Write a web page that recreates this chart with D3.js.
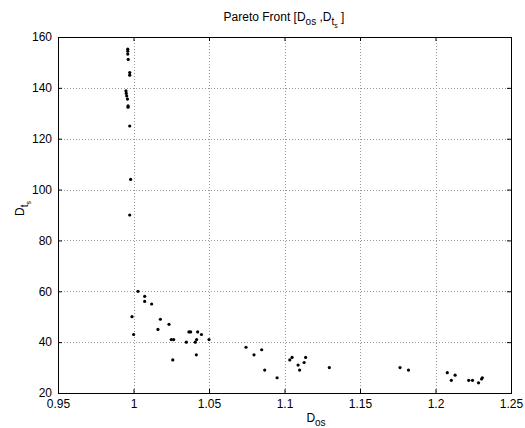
<!DOCTYPE html>
<html>
<head>
<meta charset="utf-8">
<script src="https://cdn.jsdelivr.net/npm/d3@7"></script>
<style>
  body { margin: 0; background: #fff; }
  text { font-family: "Liberation Sans", Arial, sans-serif; fill: #000; }
</style>
</head>
<body>
<script>
// Pareto front points (D_os, D_ts)
var dOs = [0.9962, 0.9962, 0.9962, 0.9965, 0.9975, 0.9975, 0.9950, 0.9952, 0.9955, 0.9960,
           0.9964, 0.9964, 0.9975, 0.9981, 0.9975,
           1.003, 1.0074, 1.0074, 1.012, 0.999, 1.0178, 1.0235, 1.0162, 1.0001, 1.025,
           1.0266, 1.026, 1.035, 1.0367, 1.0378, 1.0409, 1.0418, 1.0416, 1.0425, 1.045,
           1.05, 1.0745, 1.0798, 1.0849, 1.0869, 1.0951, 1.1035, 1.105, 1.109, 1.110,
           1.113, 1.114, 1.1297, 1.1765, 1.1821, 1.2078, 1.2105, 1.213, 1.222, 1.2245,
           1.2285, 1.2305, 1.231];
var dTs = [155.2, 154.4, 153.3, 151.2, 146, 145, 138.8, 137.8, 136.8, 135.6,
           132.9, 132.4, 125, 104, 90,
           60, 58, 56, 55, 50, 49, 47, 45, 43, 41,
           41, 33, 40, 44, 44, 40, 41, 35, 44, 43,
           41, 38, 35, 37, 29, 26, 33, 34, 31, 29,
           32, 34, 30, 30, 29, 28, 25, 27, 25, 25,
           24, 25.5, 26];

var xTicks = [0.95, 1, 1.05, 1.1, 1.15, 1.2, 1.25];
var xTickLabels = ["0.95", "1", "1.05", "1.1", "1.15", "1.2", "1.25"];
var yTicks = [20, 40, 60, 80, 100, 120, 140, 160];

var W = 525, H = 428;
var pL = 58, pT = 37, pR = 511, pB = 393;

var svg = d3.select("body").append("svg").attr("width", W).attr("height", H);

var x = d3.scaleLinear().domain([0.95, 1.25]).range([pL, pR]);
var y = d3.scaleLinear().domain([20, 160]).range([pB, pT]);

// dotted grid
svg.selectAll("line.gx")
      .data(xTicks.slice(1, -1))
      .enter().append("line")
            .attr("class", "gx")
            .attr("x1", function(d){ return Math.round(x(d)) + 0.5; })
            .attr("x2", function(d){ return Math.round(x(d)) + 0.5; })
            .attr("y1", pT).attr("y2", pB)
            .attr("stroke", "#999").attr("stroke-dasharray", "1,2");
svg.selectAll("line.gy")
      .data(yTicks.slice(1, -1))
      .enter().append("line")
            .attr("class", "gy")
            .attr("y1", function(d){ return Math.round(y(d)) + 0.5; })
            .attr("y2", function(d){ return Math.round(y(d)) + 0.5; })
            .attr("x1", pL).attr("x2", pR)
            .attr("stroke", "#999").attr("stroke-dasharray", "1,2");

// axes (ticks inward, on all four sides)
var fmtX = function(d){ return xTickLabels[xTicks.indexOf(d)]; };
var gx = svg.append("g").attr("transform", "translate(0," + pB + ")")
      .call(d3.axisBottom(x).tickValues(xTicks).tickFormat(fmtX).tickSizeInner(-4).tickSizeOuter(0).tickPadding(8));
var gy = svg.append("g").attr("transform", "translate(" + pL + ",0)")
      .call(d3.axisLeft(y).tickValues(yTicks).tickSizeInner(-4).tickSizeOuter(0).tickPadding(6));
svg.append("g").attr("transform", "translate(0," + pT + ")")
      .call(d3.axisTop(x).tickValues(xTicks).tickFormat("").tickSizeInner(-4).tickSizeOuter(0));
svg.append("g").attr("transform", "translate(" + pR + ",0)")
      .call(d3.axisRight(y).tickValues(yTicks).tickFormat("").tickSizeInner(-4).tickSizeOuter(0));

svg.selectAll(".domain").remove();
svg.selectAll(".tick line").attr("stroke", "#000");
gx.selectAll("text").attr("font-size", 12).attr("font-family", "Liberation Sans, Arial, sans-serif").attr("dy", "0.55em");
gy.selectAll("text").attr("font-size", 12).attr("font-family", "Liberation Sans, Arial, sans-serif");

svg.append("rect")
      .attr("x", pL + 0.5).attr("y", pT + 0.5)
      .attr("width", pR - pL).attr("height", pB - pT)
      .attr("fill", "none").attr("stroke", "#000").attr("stroke-width", 1);

// points
svg.selectAll("circle.pt")
      .data(dOs)
      .enter().append("circle")
            .attr("class", "pt")
            .attr("cx", function(d){ return x(d); })
            .attr("cy", function(d, i){ return y(dTs[i]); })
            .attr("r", 1.6)
            .attr("fill", "#000");

// title
var title = svg.append("text")
      .attr("x", 284).attr("y", 21)
      .attr("text-anchor", "middle")
      .attr("font-size", 12);
title.append("tspan").text("Pareto Front [D");
title.append("tspan").attr("font-size", 10).attr("dy", 4).text("os");
title.append("tspan").attr("dy", -4).text(" ,D");
title.append("tspan").attr("font-size", 10).attr("dy", 4).text("t");
title.append("tspan").attr("font-size", 7).attr("dy", 3).text("s");
title.append("tspan").attr("dy", -7).text(" ]");

// x label
var xl = svg.append("text")
      .attr("x", 316).attr("y", 422)
      .attr("text-anchor", "middle")
      .attr("font-size", 12);
xl.append("tspan").text("D");
xl.append("tspan").attr("font-size", 10).attr("dy", 4).text("os");

// y label
var yl = svg.append("text")
      .attr("transform", "translate(24,216) rotate(-90)")
      .attr("text-anchor", "start")
      .attr("font-size", 12);
yl.append("tspan").text("D");
yl.append("tspan").attr("font-size", 10).attr("dy", 4).text("t");
yl.append("tspan").attr("font-size", 7).attr("dy", 3).text("s");
</script>
</body>
</html>
